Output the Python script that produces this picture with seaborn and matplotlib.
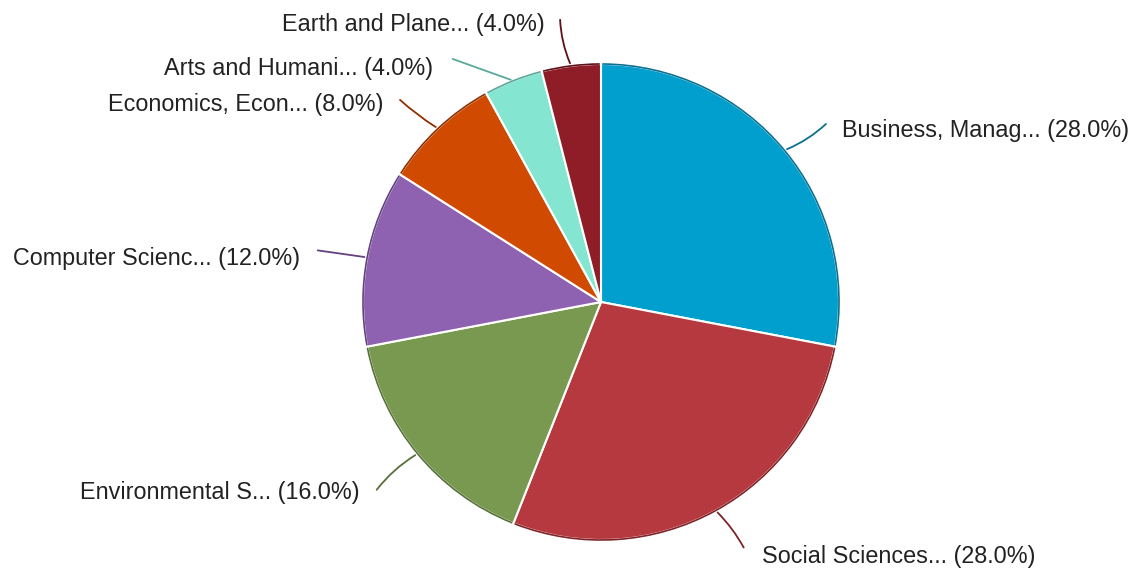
import matplotlib
matplotlib.use("Agg")
import matplotlib.pyplot as plt
import seaborn as sns
import numpy as np

categories = ["Business, Manag...", "Social Sciences...", "Environmental S...",
              "Computer Scienc...", "Economics, Econ...", "Arts and Humani...",
              "Earth and Plane..."]
values = [28.0, 28.0, 16.0, 12.0, 8.0, 4.0, 4.0]
colors = ["#009fce", "#b5393e", "#7a9950", "#8e62b0", "#d04a02", "#84e6d0", "#8f1d28"]
rim_colors = ["#0a6f90", "#7e2328", "#55703a", "#62417e", "#8f3000", "#5aa898", "#5e1018"]

# layout (pixel coordinates, y from top)
W, H = 1134, 568
cx, cy, R = 601, 302, 238
line_end = [(828, 122), (745, 550), (375, 492), (315, 250), (398, 98), (450, 58), (560, 17)]
text_pos = [(842, 130, "left"), (762, 556, "left"), (360, 493, "right"), (300, 258, "right"),
            (383, 104, "right"), (433, 68, "right"), (545, 24, "right")]
rads = [-0.1, 0.08, -0.1, 0.0, 0.05, 0.0, 0.1]

sns.set_theme(style="white")
plt.rcParams["font.family"] = ["Liberation Sans", "DejaVu Sans"]

fig = plt.figure(figsize=(W / 100, H / 100), dpi=100)
ax = fig.add_axes([0, 0, 1, 1])
ax.set_xlim(0, W)
ax.set_ylim(0, H)
ax.set_aspect("equal")
ax.axis("off")

wedges, _ = ax.pie(values, colors=colors, startangle=90, counterclock=False,
                   center=(cx, H - cy), radius=R,
                   wedgeprops=dict(edgecolor="white", linewidth=1.5))
ax.set_xlim(0, W)
ax.set_ylim(0, H)

total = sum(values)
start = 90.0
for i, (cat, v) in enumerate(zip(categories, values)):
    span = v / total * 360
    # darker outer rim of the slice
    w = wedges[i]
    ax.add_patch(matplotlib.patches.Arc((cx, H - cy), 2 * R, 2 * R,
                                        theta1=w.theta1 + 0.3, theta2=w.theta2 - 0.3,
                                        color=rim_colors[i], lw=1.2))
    mid = start - span / 2
    start -= span
    a = np.deg2rad(mid)
    sx, sy = cx + R * np.cos(a), (H - cy) + R * np.sin(a)
    ex, ey = line_end[i]
    ax.annotate("", xy=(sx, sy), xytext=(ex, H - ey),
                arrowprops=dict(arrowstyle="-", color=rim_colors[i], lw=1.3,
                                connectionstyle=f"arc3,rad={rads[i]}"))
    tx, ty, ha = text_pos[i]
    ax.text(tx, H - ty, f"{cat} ({v:.1f}%)", ha=ha, va="center",
            fontsize=16.8, color="#222222")

fig.savefig("out.png", dpi=100)
